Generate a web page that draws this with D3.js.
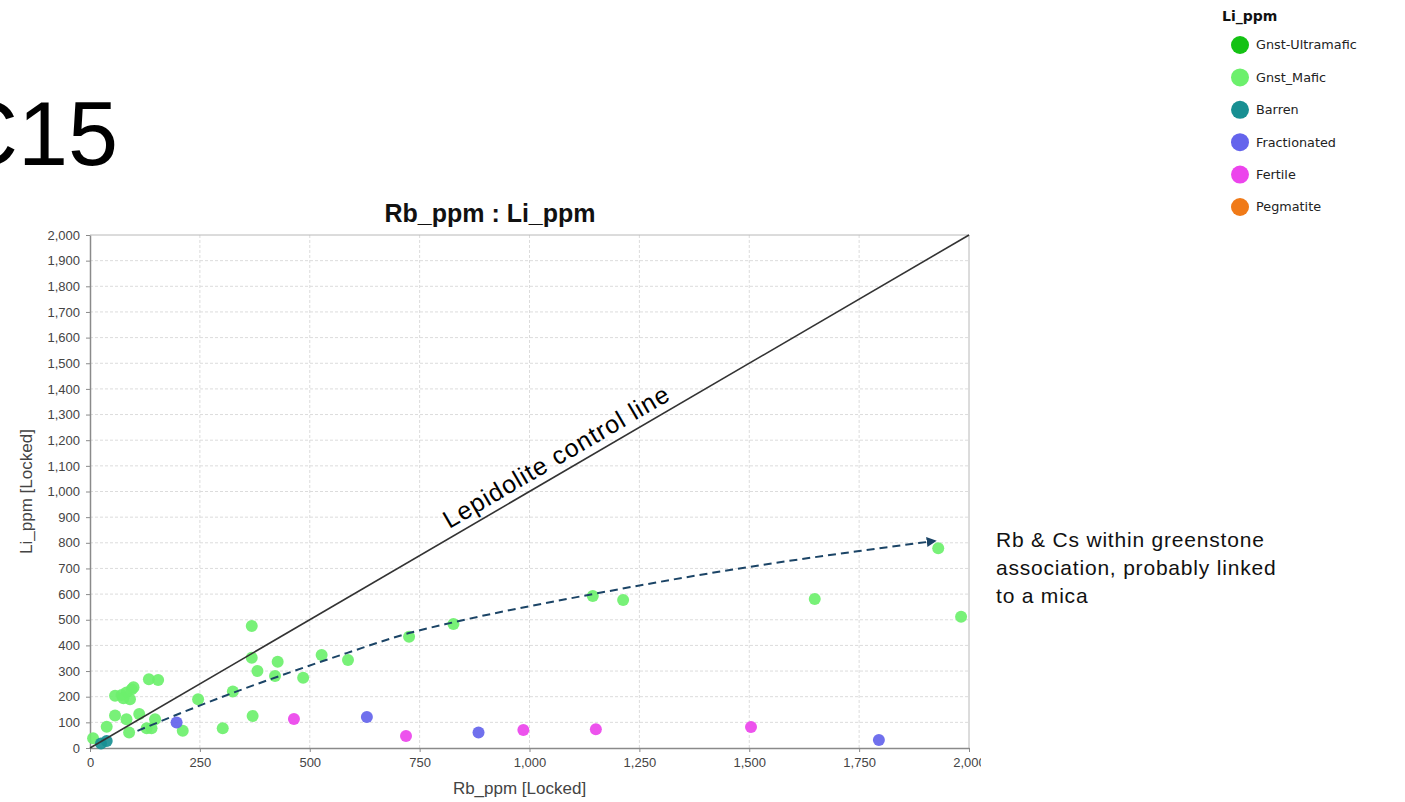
<!DOCTYPE html>
<html>
<head>
<meta charset="utf-8">
<script src="https://cdn.jsdelivr.net/npm/d3@7"></script>
<style>
  body { margin: 0; background: #fff; }
  svg { display: block; }
</style>
</head>
<body>
<svg></svg>
<script>
// Series values: [Rb_ppm, Li_ppm]
let gnstMafic = [
    [7, 38], [38, 83], [57, 127], [57, 204], [72, 207], [83, 216], [95, 229], [99, 237],
    [91, 190], [76, 194], [83, 112], [89, 60], [112, 133], [134, 268], [155, 265],
    [129, 77], [140, 77], [148, 112], [211, 67], [246, 190], [302, 77], [325, 220],
    [368, 476], [368, 352], [381, 300], [370, 125], [421, 281], [427, 336], [485, 274],
    [527, 363], [587, 343], [726, 434], [827, 483], [1144, 593], [1213, 577],
    [1649, 581], [1930, 779], [1982, 512]
];
let barren = [[25, 18], [38, 27]];
let fractionated = [[197, 99], [630, 121], [884, 60], [1795, 31]];
let fertile = [[464, 113], [719, 47], [986, 70], [1151, 73], [1504, 82]];

let legendNames = ["Gnst-Ultramafic", "Gnst_Mafic", "Barren", "Fractionated", "Fertile", "Pegmatite"];
let legendColors = ["#14c214", "#6cf06c", "#188f92", "#6464ec", "#ec44ec", "#f07a18"];

// Trend annotation (dashed arrow) and the 1:1 control line
let trend = [[108, 67], [325, 215], [432, 281], [584, 370], [726, 448], [827, 490],
    [1144, 600], [1500, 706], [1750, 768], [1922, 807]];
let controlLine = [[0, 0], [2000, 2000]];

let xTicks = [0, 250, 500, 750, 1000, 1250, 1500, 1750, 2000];
let yTicks = d3.range(0, 2001, 100);

let margin = { top: 235, right: 436, bottom: 54, left: 90 },
    width = 1405 - margin.left - margin.right,
    height = 802 - margin.top - margin.bottom;

let svg = d3.select("svg").attr("width", 1405).attr("height", 802);

// cut the right edge like the screenshot crop
svg.append("defs").append("clipPath").attr("id", "crop")
    .append("rect").attr("x", 0).attr("y", 0).attr("width", 981).attr("height", 802);
svg.select("defs").append("marker")
    .attr("id", "arrow").attr("viewBox", "0 0 10 10")
    .attr("refX", 8).attr("refY", 5)
    .attr("markerWidth", 5).attr("markerHeight", 5)
    .attr("orient", "auto")
    .append("path").attr("d", "M0,0L10,5L0,10Z").attr("fill", "#1b4466");

// big slide label, partly off the left edge
svg.append("text")
    .attr("x", 118).attr("y", 165)
    .attr("text-anchor", "end")
    .attr("font-family", "Liberation Sans, Arial")
    .attr("font-size", 90)
    .attr("fill", "#000")
    .text("C15");

let g = svg.append("g")
    .attr("clip-path", "url(#crop)")
    .append("g")
    .attr("transform", "translate(" + margin.left + "," + margin.top + ")");

let x = d3.scaleLinear().domain([0, 2000]).range([0, width]);
let y = d3.scaleLinear().domain([0, 2000]).range([height, 0]);

// grid
g.append("g").selectAll("line").data(xTicks.slice(1, -1)).enter().append("line")
    .attr("x1", d => x(d)).attr("x2", d => x(d))
    .attr("y1", 0).attr("y2", height)
    .attr("stroke", "#dcdcdc").attr("stroke-dasharray", "3,2");
g.append("g").selectAll("line").data(yTicks.slice(1, -1)).enter().append("line")
    .attr("y1", d => y(d)).attr("y2", d => y(d))
    .attr("x1", 0).attr("x2", width)
    .attr("stroke", "#dcdcdc").attr("stroke-dasharray", "3,2");

// frame top/right
g.append("path")
    .attr("d", "M0,0H" + width + "V" + height)
    .attr("fill", "none").attr("stroke", "#b8b8b8");

// axes
let xAxis = g.append("g")
    .attr("transform", "translate(0," + height + ")")
    .call(d3.axisBottom(x).tickValues(xTicks).tickSize(4).tickPadding(4).tickSizeOuter(0).tickFormat(d3.format(",")));
let yAxis = g.append("g")
    .call(d3.axisLeft(y).tickValues(yTicks).tickSize(4).tickPadding(6).tickSizeOuter(0).tickFormat(d3.format(",")));
[xAxis, yAxis].forEach(a => {
    a.select(".domain").attr("stroke", "#8a8a8a").attr("stroke-width", 1.5);
    a.selectAll(".tick line").attr("stroke", "#8a8a8a");
    a.selectAll("text").attr("fill", "#444").attr("font-size", 13)
        .attr("font-family", "Liberation Sans, Arial");
});
xAxis.selectAll("text").attr("dy", "0.85em");

// axis titles
g.append("text")
    .attr("x", width / 2 - 10).attr("y", height + 46)
    .attr("text-anchor", "middle")
    .attr("font-family", "Liberation Sans, Arial").attr("font-size", 17)
    .attr("fill", "#444")
    .text("Rb_ppm [Locked]");
g.append("text")
    .attr("transform", "translate(-58," + (height / 2) + ") rotate(-90)")
    .attr("text-anchor", "middle")
    .attr("font-family", "Liberation Sans, Arial").attr("font-size", 17)
    .attr("fill", "#444")
    .text("Li_ppm [Locked]");

// chart title
g.append("text")
    .attr("x", 400).attr("y", -13)
    .attr("text-anchor", "middle")
    .attr("font-family", "Liberation Sans, Arial").attr("font-size", 25)
    .attr("font-weight", "bold")
    .attr("fill", "#111")
    .text("Rb_ppm : Li_ppm");

// points
let series = [
    { data: gnstMafic, color: legendColors[1] },
    { data: barren, color: legendColors[2] },
    { data: fractionated, color: legendColors[3] },
    { data: fertile, color: legendColors[4] }
];
series.forEach(s => {
    g.append("g").selectAll("circle").data(s.data).enter().append("circle")
        .attr("cx", d => x(d[0])).attr("cy", d => y(d[1]))
        .attr("r", 6)
        .attr("fill", s.color)
        .attr("fill-opacity", 0.92);
});

// lepidolite control line
let line = d3.line().x(d => x(d[0])).y(d => y(d[1]));
g.append("path")
    .datum(controlLine)
    .attr("d", line)
    .attr("fill", "none").attr("stroke", "#333").attr("stroke-width", 1.6);

let ang = -Math.atan((y(0) - y(2000)) / (x(2000) - x(0))) * 180 / Math.PI;
g.append("text")
    .attr("transform", "translate(" + (x(1080) - 4) + "," + (y(1080) - 7) + ") rotate(" + ang + ")")
    .attr("text-anchor", "middle")
    .attr("font-family", "Liberation Sans, Arial").attr("font-size", 25)
    .attr("letter-spacing", 1)
    .attr("fill", "#000")
    .text("Lepidolite control line");

// dashed trend arrow
g.append("path")
    .datum(trend)
    .attr("d", line.curve(d3.curveMonotoneX))
    .attr("fill", "none").attr("stroke", "#1b4466").attr("stroke-width", 2)
    .attr("stroke-dasharray", "8,5")
    .attr("marker-end", "url(#arrow)");

// annotation
let note = svg.append("text")
    .attr("font-family", "Liberation Sans, Arial").attr("font-size", 21)
    .attr("letter-spacing", 0.8)
    .attr("fill", "#111");
["Rb & Cs within greenstone", "association, probably linked", "to a mica"].forEach((t, i) => {
    note.append("tspan").attr("x", 996).attr("y", 547 + i * 28).text(t);
});

// legend
let legend = svg.append("g").attr("transform", "translate(1222,0)");
legend.append("text")
    .attr("x", 0).attr("y", 21)
    .attr("font-family", "DejaVu Sans, Tahoma").attr("font-size", 14)
    .attr("font-weight", "bold").attr("fill", "#111")
    .text("Li_ppm");
let items = legend.selectAll(".item").data(legendNames).enter().append("g")
    .attr("transform", (d, i) => "translate(0," + (45 + i * 32.4) + ")");
items.append("circle")
    .attr("cx", 18).attr("cy", 0).attr("r", 9)
    .attr("fill", (d, i) => legendColors[i]);
items.append("text")
    .attr("x", 34).attr("y", 0).attr("dy", "0.35em")
    .attr("font-family", "DejaVu Sans, Tahoma").attr("font-size", 12.8)
    .attr("fill", "#222")
    .text(d => d);
</script>
</body>
</html>
